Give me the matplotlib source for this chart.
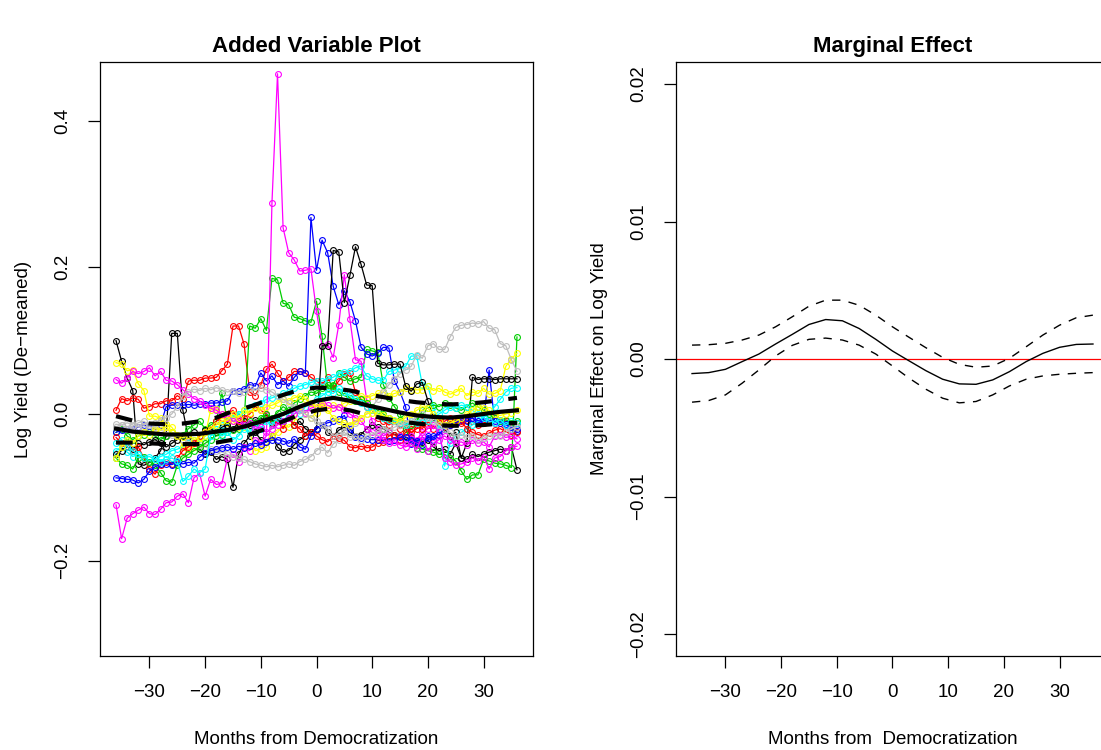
import numpy as np
import matplotlib.pyplot as plt

plt.rcParams['font.family'] = ['Liberation Sans', 'DejaVu Sans']

# months relative to democratization
months = np.arange(-36, 37)

# de-meaned log yield per country, in thousandths
black_a = [100, 72, 49, 32, -68, -70, -66, -60, -50, -30, 110, 110,
           5, -32, -40, -48, -55, -52, -62, -58, -62, -100, -55, -40,
           -30, -25, -35, -38, -30, -45, -52, -50, -42, -35, -30, -25,
           -20, -15, -25, -30, -22, -18, -25, -30, -28, -20, -15, -18,
           -20, -25, -28, -30, -35, -32, -40, -38, -36, -45, -50, -48,
           -55, -40, -60, -62, -55, -58, -55, -52, -50, -48, -50, -45, -76]
red_a = [5, 21, 18, 22, 20, 8, 10, 14, 14, 18, 18, 25,
         20, 45, 46, 46, 49, 49, 50, 59, 68, 120, 120, 95,
         30, 25, 40, 61, 68, 56, 45, 50, 58, 58, 56, 50,
         45, 40, 50, 35, 45, 55, 56, 30, 20, 10, 5, -5,
         -10, -15, -10, -20, -15, -25, -20, -10, -15, -20, -12, -18,
         -15, -10, -12, -8, -10, -15, -12, -10, -5, -8, -10, -15, -12]
green_a = [-25, -20, -30, -35, -30, -28, -25, -30, -35, -30, -25, -30,
           -28, -20, -15, -10, -20, -15, -10, 29, -10, -5, 0, -10,
           120, 117, 130, 114, 185, 183, 151, 149, 132, 130, 127, 125,
           154, 106, 36, 40, 56, 50, 45, 48, 50, 88, 86, 84,
           40, 22, 10, 0, -20, -40, -46, -48, -50, -52, -55, -55,
           -60, -64, -78, -89, -83, -83, -62, -64, -67, -68, -70, -73, 105]
blue_a = [-25, -22, -20, -20, -18, -15, -17, -16, -15, 10, 12, 12,
          12, 13, 12, 13, 14, 15, 15, 16, 18, 32, 31, 34,
          40, 38, 56, 45, 52, 40, 45, 38, 50, 58, 56, 268,
          196, 237, 220, 174, 149, 168, 153, 127, 91, 82, 79, 83,
          91, 90, 45, 30, 10, -41, -38, -42, -30, -35, -20, -15,
          -10, -12, -8, -10, -5, -12, -10, 60, -12, -10, -15, -18, -23]
cyan_a = [-50, -45, -52, -58, -55, -60, -65, -62, -58, -55, -50, -48,
          -45, -40, -35, -38, -30, -25, -21, -15, -10, -5, 0, 5,
          10, 12, 15, 20, 22, 25, 28, 30, 35, 38, 40, 43,
          45, 45, 48, 50, 55, 57, 58, 63, 65, 52, 48, 46,
          46, 58, 60, 62, 65, 79, 79, 40, 38, 10, -20, -71,
          -40, -30, -25, -20, -15, -10, -5, 0, 10, 20, 30, 35, 36]
magenta_a = [-124, -170, -142, -136, -131, -127, -136, -137, -130, -121, -120, -112,
             -109, -121, -87, -81, -112, -89, -96, -95, -60, -55, -65, -45,
             -50, -35, -40, -30, 288, 464, 254, 220, 210, 195, 196, 198,
             140, 93, 95, 77, 122, 190, 129, 74, 72, 20, -10, -20,
             -30, -25, -35, -30, -40, -30, -35, -25, -20, -15, -25, -60,
             -65, -70, -68, -66, -60, -64, -58, -75, -60, -58, -50, -45, -44]
yellow_a = [70, 68, 59, 60, 41, 32, -3, -3, -6, -14, -18, -28,
            -45, -48, -45, -40, -30, 6, 7, 0, -12, -10, -18, -18,
            -25, -50, -48, -45, -30, -25, -15, -18, -10, 8, 0, -5,
            2, 10, 8, 12, 10, 15, 18, 20, 25, 22, 25, 28,
            30, 25, 28, 30, 35, 33, 33, 33, 38, 32, 35, 30,
            27, 30, 35, 25, 30, 28, 35, 27, 28, 32, 65, 75, 83]
gray_a = [-14, -15, -12, -15, -18, -16, -20, -18, -22, -25, -28, -30,
          -35, -38, -40, -42, -45, -48, -50, -52, -55, -58, -60, -62,
          -65, -68, -70, -72, -70, -72, -70, -68, -70, -65, -62, -58,
          -50, -45, -53, -41, -35, -23, -17, -12, -5, 0, 10, 20,
          30, 40, 48, 55, 60, 65, 81, 76, 93, 96, 88, 88,
          105, 118, 121, 122, 124, 123, 126, 117, 115, 96, 93, 74, 58]
black_b = [-55, -50, -45, -48, -40, -42, -38, -35, -40, -45, -40, -35,
           -30, -28, -25, -30, -22, -20, -25, -18, -15, -20, -12, -10,
           -15, -8, -10, -5, -12, -8, -10, -5, -15, -10, -20, -25,
           -21, 93, 93, 223, 221, 152, 189, 228, 204, 176, 175, 69,
           67, 67, 68, 68, 38, 31, 41, 43, 18, -4, -10, -20,
           -30, -25, -60, -40, 50, 47, 48, 48, 47, 48, 48, 48, 48]
red_b = [-32, -40, -45, -50, -45, -60, -75, -82, -70, -65, -68, -60,
         -50, -45, -40, -30, -25, -20, -10, -5, 0, 5, -10, -5,
         0, 10, 5, 0, -15, -10, -20, -5, -15, -20, -30, -25,
         -30, -35, -38, -30, -33, -36, -45, -46, -44, -46, -45, -40,
         -38, -30, -28, -35, -25, -20, -15, -20, -10, -5, -8, -10,
         -5, -8, -10, -20, -25, -28, -30, -26, -22, -20, -24, -28, -25]
green_b = [-60, -68, -70, -75, -60, -58, -65, -70, -80, -91, -93, -70,
           -60, -55, -50, -45, -40, -35, -30, -28, -25, -22, -20, -15,
           -10, -12, -5, 0, -5, 2, 10, 5, 15, 20, 25, 30,
           28, 35, 40, 38, 30, 25, 22, 18, 20, 15, 10, 5,
           0, -5, -10, -8, -12, -15, -10, 5, 8, 12, 10, 15,
           12, 8, 5, 10, 15, 10, 5, 0, -5, -10, -8, -12, -10]
blue_b = [-87, -88, -89, -90, -94, -89, -78, -72, -68, -68, -69, -66,
          -68, -66, -67, -59, -53, -50, -48, -46, -45, -48, -44, -46,
          -43, -40, -42, -38, -36, -35, -37, -40, -34, -45, -48, -30,
          -20, -15, -12, -10, -7, -2, -20, -32, -33, -34, -35, -35,
          -36, -37, -35, -32, -31, -36, -37, -35, -33, -30, -28, -20,
          -15, -12, -6, -5, -6, -9, -10, -9, -10, -12, -13, -20, -20]
cyan_b = [-40, -35, -45, -50, -55, -60, -58, -62, -65, -62, -60, -64,
          -92, -85, -75, -80, -75, -30, -21, -30, -25, -35, -30, -20,
          -25, -15, -20, -10, -15, -5, -10, 0, 5, 0, 10, 15,
          20, 25, 30, 28, 35, 30, 25, 20, 15, 10, 5, 0,
          -5, -8, -10, -12, -15, -10, -12, -8, -10, -5, 0, 5,
          10, 8, 12, 10, 5, 0, -5, -10, -12, -8, -15, -10, -12]
magenta_b = [47, 42, 49, 58, 55, 58, 63, 52, 58, 46, 45, 40,
             33, 27, 21, 18, 12, 8, 5, 0, -5, -10, -8, -15,
             -12, -20, -18, -25, -20, -15, -10, -5, 0, 5, 2, 8,
             10, 15, 12, 8, 10, 5, 0, -5, -10, -20, -25, -30,
             -35, -40, -38, -42, -45, -40, -48, -30, -50, -40, -35, -30,
             -35, -40, -38, -42, -36, -40, -38, -45, -30, -28, -32, -30, -34]
yellow_b = [-60, -45, -35, -40, -30, -25, -28, -20, -22, -18, -25, -30,
            -32, -28, -35, -32, -25, -20, -15, -10, -8, 0, -5, 5,
            2, 8, 5, 10, 12, 15, 20, 18, 22, 25, 20, 15,
            10, 12, 5, -5, -10, -12, -15, -10, -5, 0, 2, 0,
            -2, -5, -8, -10, -5, 0, 5, 10, 8, 0, -10, -15,
            -12, -10, -5, 0, 5, 10, 8, 5, 0, -2, 0, 2, 5]
gray_b = [-18, -15, -20, -17, -12, -10, -15, -12, -8, -5, 0, 10,
          25, 30, 34, 32, 35, 33, 36, 33, 30, 32, 28, 30,
          35, 32, 36, 33, 30, 25, 20, 15, 10, 5, 0, -5,
          -10, -15, -20, -30, -28, -25, -32, -30, -35, -30, -28, -25,
          -20, -22, -18, -15, -12, -10, -5, 0, -5, -10, -15, -20,
          -25, -30, -28, -32, -30, -35, -33, -30, -28, -30, -25, -20, -18]

series = [black_a, red_a, green_a, blue_a, cyan_a, magenta_a, yellow_a, gray_a,
          black_b, red_b, green_b, blue_b, cyan_b, magenta_b, yellow_b, gray_b]
palette = ['#000000', '#FF0000', '#00CD00', '#0000FF',
           '#00FFFF', '#FF00FF', '#FFFF00', '#BEBEBE']

# smoothed fit with band, every 3 months (thousandths)
fit_months = np.arange(-36, 37, 3)
fit_mid = [-20, -24, -26, -28, -28, -27, -24, -21, -15, -8, 0, 10, 18,
           22, 18, 12, 7, 2, -2, -4, -5, -3, 0, 3, 5]
fit_hi = [-3, -9, -13, -14, -13, -10, -5, 4, 10, 18, 26, 33, 36,
          35, 32, 27, 23, 19, 16, 14, 13, 14, 16, 19, 22]
fit_lo = [-39, -39, -40, -41, -41, -41, -39, -35, -28, -20, -10, -1, 5,
          8, 5, -1, -6, -10, -13, -15, -16, -16, -15, -13, -12]

# marginal effect with bounds, every 3 months
me_mid = [-0.00106, -0.00099, -0.00075, -0.00019, 0.00036, 0.00109, 0.00179,
          0.00251, 0.00287, 0.00278, 0.00222, 0.00143, 0.00058, -0.00014,
          -0.00085, -0.00147, -0.00181, -0.00184, -0.00152, -0.00092, -0.00019,
          0.00041, 0.00085, 0.00106, 0.00109]
me_hi = [0.00101, 0.00104, 0.00114, 0.00138, 0.00174, 0.00234, 0.00307,
         0.00384, 0.00428, 0.00428, 0.00391, 0.00319, 0.00234, 0.00157,
         0.00082, 0.00012, -0.00039, -0.00060, -0.00051, 0.00005, 0.00089,
         0.00174, 0.00246, 0.00300, 0.00319]
me_lo = [-0.00314, -0.00302, -0.00261, -0.00176, -0.00080, 0.00022, 0.00099,
         0.00143, 0.00152, 0.00138, 0.00101, 0.00036, -0.00051, -0.00140,
         -0.00220, -0.00285, -0.00319, -0.00309, -0.00261, -0.00196, -0.00147,
         -0.00123, -0.00111, -0.00104, -0.00099]

W, H = 1101, 750
fig = plt.figure(figsize=(W / 100, H / 100), dpi=100)
ax1 = fig.add_axes([100 / W, (H - 656) / H, 433 / W, 594 / H])
ax2 = fig.add_axes([676 / W, (H - 656) / H, 433 / W, 594 / H])

fs = 13.5
for ax in (ax1, ax2):
    for sp in ax.spines.values():
        sp.set_linewidth(0.9)
    ax.tick_params(direction='out', length=8.5, width=0.9, pad=12, labelsize=fs)
    ax.tick_params(axis='y', labelrotation=90)
    ax.set_xlim(-38.88, 38.88)
    ax.set_xticks([-30, -20, -10, 0, 10, 20, 30])

# left panel
for i, s in enumerate(series):
    ax1.plot(months, np.array(s) / 1000, color=palette[i % 8], lw=0.9,
             marker='o', ms=4.2, mfc='none', mew=0.8)
ax1.plot(fit_months, np.array(fit_mid) / 1000, color='black', lw=3)
ax1.plot(fit_months, np.array(fit_hi) / 1000, color='black', lw=3, ls=(0, (4, 4)))
ax1.plot(fit_months, np.array(fit_lo) / 1000, color='black', lw=3, ls=(0, (4, 4)))
ax1.set_ylim(-0.33, 0.48)
ax1.set_yticks([-0.2, 0.0, 0.2, 0.4])
ax1.set_yticklabels(['\u22120.2', '0.0', '0.2', '0.4'], va='center')
ax1.set_title('Added Variable Plot', fontsize=16, fontweight='bold', pad=7)
ax1.set_xlabel('Months from Democratization', fontsize=fs, labelpad=21)
ax1.set_ylabel('Log Yield (De\u2212meaned)', fontsize=fs, labelpad=16)

# right panel
ax2.axhline(0, color='#FF0000', lw=0.9)
ax2.plot(fit_months, me_mid, color='black', lw=1.0)
ax2.plot(fit_months, me_hi, color='black', lw=1.0, ls=(0, (6, 6)))
ax2.plot(fit_months, me_lo, color='black', lw=1.0, ls=(0, (6, 6)))
ax2.set_ylim(-0.0216, 0.0216)
ax2.set_yticks([-0.02, -0.01, 0.0, 0.01, 0.02])
ax2.set_yticklabels(['\u22120.02', '\u22120.01', '0.00', '0.01', '0.02'], va='center')
ax2.set_title('Marginal Effect', fontsize=16, fontweight='bold', pad=7)
ax2.set_xlabel('Months from  Democratization', fontsize=fs, labelpad=21)
ax2.set_ylabel('Marginal Effect on Log Yield', fontsize=fs, labelpad=16)

fig.savefig('out.png', dpi=100)
